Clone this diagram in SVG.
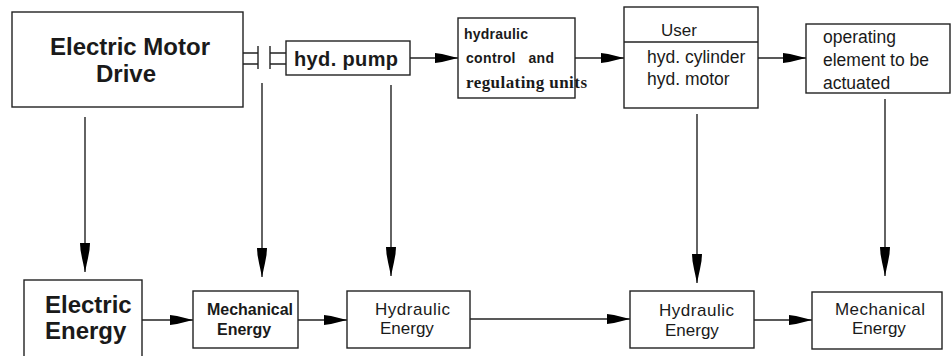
<svg xmlns="http://www.w3.org/2000/svg" width="952" height="356" viewBox="0 0 952 356">
<style>
.box{fill:#fff;stroke:#222;stroke-width:1.4}
.ln{fill:none;stroke:#222;stroke-width:1.4}
.t{font-family:"Liberation Sans",Arial,sans-serif;fill:#1a1a1a}
.b{font-weight:bold}
.s{font-family:"Liberation Serif","Times New Roman",serif;fill:#1a1a1a;font-weight:bold}
</style>
<defs>
<marker id="av" markerUnits="userSpaceOnUse" markerWidth="30" markerHeight="12" viewBox="-29 -6 30 12" refX="0" refY="0" orient="auto">
<path d="M-29,-5 L-22,-4.5 L-14,-3 L0,0 L-14,3 L-22,4.5 L-29,5 Z" fill="#000"/>
</marker>
<marker id="ah" markerUnits="userSpaceOnUse" markerWidth="24" markerHeight="12" viewBox="-23 -6 24 12" refX="0" refY="0" orient="auto">
<path d="M-23,-5 L-16,-4 L-10,-2.5 L0,0 L-10,2.5 L-16,4 L-23,5 Z" fill="#000"/>
</marker>
</defs>

<g id="connectors">
<path class="ln" d="M243,53 H258 M243,64 H258 M258,46 V69 M270,46 V69 M270,53 H286 M270,64 H286"/>
<line class="ln" x1="410" y1="58" x2="458" y2="58" marker-end="url(#ah)"/>
<line class="ln" x1="575" y1="58" x2="624" y2="58" marker-end="url(#ah)"/>
<line class="ln" x1="758" y1="58" x2="806" y2="58" marker-end="url(#ah)"/>
<line class="ln" x1="85" y1="117" x2="85" y2="272" marker-end="url(#av)"/>
<line class="ln" x1="262" y1="83" x2="262" y2="277" marker-end="url(#av)"/>
<line class="ln" x1="391" y1="85" x2="391" y2="276" marker-end="url(#av)"/>
<line class="ln" x1="697" y1="114" x2="697" y2="283" marker-end="url(#av)"/>
<line class="ln" x1="885" y1="99" x2="885" y2="276" marker-end="url(#av)"/>
<line class="ln" x1="142" y1="320" x2="193" y2="320" marker-end="url(#ah)"/>
<line class="ln" x1="298" y1="320" x2="347" y2="320" marker-end="url(#ah)"/>
<line class="ln" x1="470" y1="319" x2="630" y2="319" marker-end="url(#ah)"/>
<line class="ln" x1="754" y1="320" x2="812" y2="320" marker-end="url(#ah)"/>
</g>

<g id="electric-motor-drive">
<rect class="box" x="12" y="12" width="231" height="95"/>
<text class="t b" x="130" y="55" font-size="24" text-anchor="middle">Electric Motor</text>
<text class="t b" x="126" y="82" font-size="24" text-anchor="middle">Drive</text>
</g>

<g id="hyd-pump">
<rect class="box" x="286" y="41" width="124" height="34"/>
<text class="t b" x="294" y="66" font-size="20" textLength="104">hyd. pump</text>
</g>

<g id="control-units">
<rect class="box" x="458" y="18" width="117" height="80"/>
<text class="t b" x="464" y="39" font-size="14" textLength="64">hydraulic</text>
<text class="t b" x="466" y="63" font-size="14" xml:space="preserve" textLength="88">control   and</text>
<text class="s" x="466" y="88" font-size="17" textLength="121">regulating units</text>
</g>

<g id="user">
<rect class="box" x="624" y="7" width="134" height="101"/>
<line class="ln" x1="624" y1="42" x2="758" y2="42"/>
<text class="t" x="661" y="36" font-size="17">User</text>
<text class="t" x="647" y="63" font-size="17.5">hyd. cylinder</text>
<text class="t" x="647" y="85" font-size="17.5">hyd. motor</text>
</g>

<g id="operating-element">
<rect class="box" x="806" y="24" width="144" height="69"/>
<text class="t" x="823" y="43" font-size="17.5">operating</text>
<text class="t" x="823" y="66" font-size="17.5">element to be</text>
<text class="t" x="823" y="89" font-size="17.5">actuated</text>
</g>

<g id="electric-energy">
<rect class="box" x="24" y="280" width="118" height="82"/>
<text class="t b" x="45" y="313" font-size="24">Electric</text>
<text class="t b" x="45" y="339" font-size="24">Energy</text>
</g>

<g id="mechanical-energy-1">
<rect class="box" x="193" y="291" width="105" height="57"/>
<text class="t b" x="207" y="315" font-size="16" textLength="86">Mechanical</text>
<text class="t b" x="217" y="335" font-size="16">Energy</text>
</g>

<g id="hydraulic-energy-1">
<rect class="box" x="347" y="291" width="123" height="57"/>
<text class="t" x="375" y="315" font-size="17" textLength="75">Hydraulic</text>
<text class="t" x="380" y="334" font-size="17">Energy</text>
</g>

<g id="hydraulic-energy-2">
<rect class="box" x="630" y="291" width="124" height="57"/>
<text class="t" x="659" y="316" font-size="17" textLength="75">Hydraulic</text>
<text class="t" x="665" y="336" font-size="17">Energy</text>
</g>

<g id="mechanical-energy-2">
<rect class="box" x="812" y="292" width="130" height="57"/>
<text class="t" x="835" y="315" font-size="17" textLength="90">Mechanical</text>
<text class="t" x="852" y="334" font-size="17">Energy</text>
</g>
</svg>
